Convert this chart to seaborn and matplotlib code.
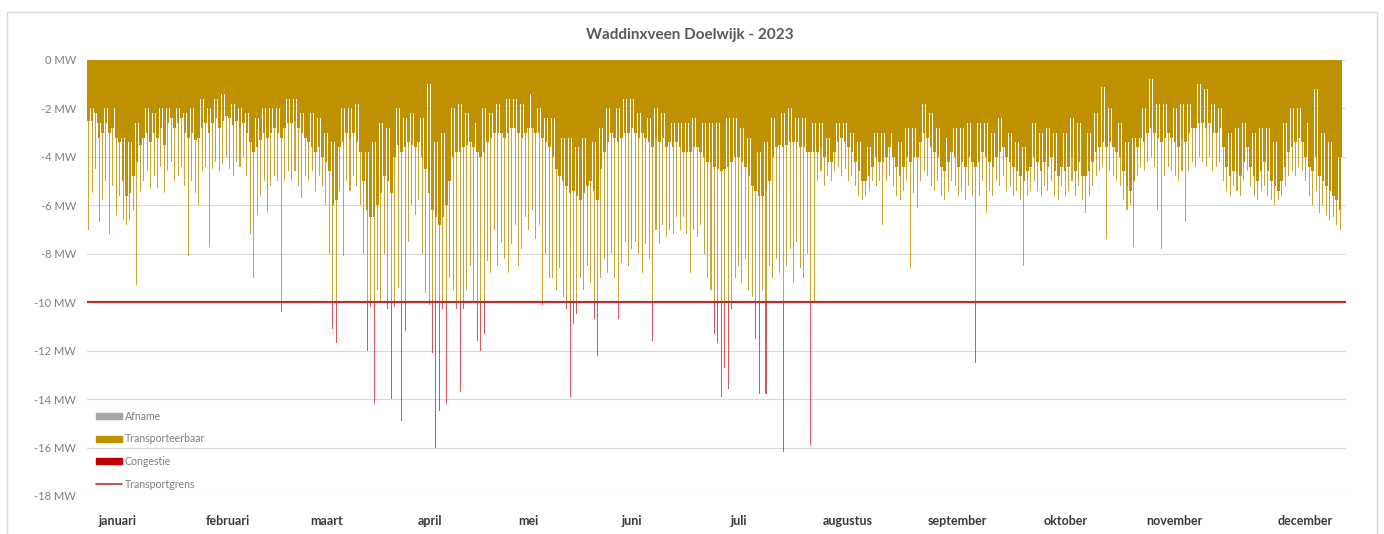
import numpy as np
import pandas as pd
import seaborn as sns
import matplotlib.pyplot as plt
from matplotlib.patches import Patch, Rectangle
from matplotlib.lines import Line2D

titel = "Waddinxveen Doelwijk - 2023"
maanden = ["januari", "februari", "maart", "april", "mei", "juni", "juli",
           "augustus", "september", "oktober", "november", "december"]
grens = -10  # transportgrens in MW

# diepste waarde per dag (MW), per maand een regel
piek = [
    -7.0, -5.5, -4.5, -6.7, -5.8, -5.0, -7.2, -5.2, -6.4, -5.6, -6.6, -6.8, -6.6, -6.2, -9.3, -5.4, -5.0, -4.6, -5.3, -4.8, -5.3, -4.4, -5.5, -4.6, -4.2, -5.0, -4.8, -4.4, -5.2, -8.1, -5.0,
    -5.5, -6.0, -4.6, -4.4, -7.7, -4.5, -4.2, -4.6, -4.3, -4.0, -4.5, -4.8, -4.2, -4.4, -4.0, -4.8, -7.2, -9.0, -6.4, -5.6, -5.0, -6.3, -5.2, -4.8, -5.0, -10.4, -5.0, -4.6,
    -5.0, -4.6, -5.2, -5.7, -4.8, -5.0, -4.6, -5.4, -4.8, -5.2, -6.0, -8.0, -11.1, -11.7, -5.4, -8.1, -5.0, -5.4, -4.8, -5.2, -6.0, -8.0, -12.0, -10.2, -14.2, -9.5, -10.0, -8.0, -10.3, -14.0, -10.2,
    -9.4, -14.9, -11.2, -7.5, -6.0, -6.4, -5.8, -8.0, -9.6, -10.1, -12.1, -16.0, -14.5, -10.3, -14.2, -9.0, -9.5, -10.3, -13.7, -10.3, -9.5, -8.5, -10.0, -11.6, -12.0, -11.3, -8.3, -8.8, -7.0, -8.5,
    -7.5, -8.2, -8.8, -7.6, -6.8, -8.5, -7.8, -6.5, -7.0, -6.2, -7.4, -6.8, -10.1, -8.0, -9.0, -9.0, -9.5, -8.6, -9.8, -10.3, -13.9, -10.9, -10.5, -9.0, -9.5, -8.5, -9.2, -10.7, -12.2, -9.0, -8.2,
    -8.8, -8.0, -9.0, -10.7, -8.4, -7.5, -8.5, -7.8, -7.5, -8.0, -8.8, -7.6, -8.2, -11.6, -7.0, -7.6, -6.8, -7.3, -7.0, -7.2, -6.5, -7.0, -6.5, -7.2, -8.8, -7.0, -7.3, -6.8, -8.0, -9.0,
    -9.5, -11.3, -11.7, -13.9, -12.7, -13.6, -10.3, -9.0, -8.5, -9.2, -8.2, -9.5, -9.8, -11.5, -13.8, -9.5, -13.8, -8.5, -9.0, -8.2, -8.8, -16.2, -8.5, -7.8, -9.2, -7.5, -8.6, -9.0, -8.0, -15.9, -10.0,
    -5.0, -4.6, -5.2, -4.8, -5.0, -4.6, -4.4, -4.8, -4.5, -5.0, -4.8, -5.2, -5.6, -5.8, -5.6, -5.4, -5.0, -5.2, -5.0, -6.8, -5.0, -4.8, -5.2, -5.6, -5.8, -5.4, -5.0, -8.6, -5.5, -6.1, -5.0,
    -4.6, -4.8, -5.2, -5.4, -5.0, -5.6, -5.8, -5.4, -5.0, -5.2, -5.6, -5.4, -5.8, -5.2, -5.6, -12.5, -5.6, -5.0, -6.3, -5.4, -5.6, -5.0, -5.2, -4.8, -5.4, -5.2, -5.6, -5.4, -5.8, -8.5,
    -5.6, -5.4, -5.0, -5.4, -5.6, -5.2, -5.4, -5.0, -5.6, -5.8, -5.2, -5.6, -5.4, -5.0, -5.6, -5.2, -5.8, -6.3, -5.6, -5.2, -4.8, -4.6, -4.4, -7.4, -4.6, -4.8, -5.0, -5.2, -5.8, -6.2, -6.0,
    -7.7, -4.8, -4.4, -4.6, -4.2, -4.0, -4.4, -6.2, -7.8, -4.8, -4.4, -4.6, -4.8, -5.0, -4.6, -6.7, -4.6, -4.2, -4.4, -4.0, -4.2, -4.4, -4.0, -4.6, -4.4, -4.2, -5.0, -5.4, -5.6, -5.2,
    -5.4, -5.6, -5.0, -4.6, -5.2, -5.6, -5.8, -5.4, -5.2, -5.6, -5.8, -6.0, -5.8, -5.6, -5.2, -4.8, -4.6, -4.8, -4.4, -4.6, -5.0, -5.6, -6.0, -5.4, -6.3, -6.0, -6.4, -6.6, -6.5, -6.8, -7.0,
]

# gangbaar niveau per dag (MW)
basis = [
    -2.5, -2.5, -2.2, -3.2, -3.0, -2.6, -3.0, -2.8, -3.2, -3.4, -5.0, -5.6, -5.5, -4.8, -4.2, -3.5, -3.2, -3.0, -3.4, -3.0, -3.2, -2.8, -3.5, -2.6, -2.4, -2.8, -2.6, -2.4, -3.0, -3.2, -3.0,
    -3.3, -3.2, -2.8, -2.6, -3.0, -2.6, -2.4, -2.8, -2.5, -2.3, -2.4, -2.7, -2.5, -2.8, -2.6, -3.0, -3.4, -3.8, -3.6, -3.3, -3.0, -3.2, -3.0, -2.8, -3.0, -3.2, -2.8, -2.6,
    -2.6, -2.5, -2.8, -3.0, -3.2, -3.4, -3.6, -3.8, -3.6, -4.0, -4.2, -4.6, -6.0, -5.8, -3.6, -3.4, -3.0, -3.2, -3.0, -3.4, -3.8, -5.0, -6.2, -6.5, -6.5, -6.0, -5.5, -4.8, -5.0, -5.5, -4.0,
    -3.5, -3.8, -3.6, -3.4, -3.5, -3.6, -3.4, -4.0, -4.5, -5.5, -6.2, -6.5, -6.8, -6.5, -6.0, -5.0, -4.0, -3.8, -3.8, -3.6, -3.5, -3.4, -3.6, -3.8, -4.0, -3.8, -3.4, -3.2, -3.0, -3.0,
    -3.0, -3.2, -3.0, -2.8, -2.8, -3.0, -3.2, -3.0, -2.8, -2.8, -3.0, -3.0, -3.2, -3.4, -3.6, -4.0, -4.5, -4.8, -5.0, -5.2, -5.5, -5.4, -5.6, -5.8, -5.5, -5.2, -5.0, -5.4, -5.8, -4.5, -3.8,
    -3.4, -3.0, -3.2, -3.4, -3.2, -3.0, -3.0, -2.8, -3.0, -3.2, -3.0, -3.2, -3.4, -3.6, -3.2, -3.4, -3.2, -3.6, -3.4, -3.6, -3.4, -3.6, -3.8, -3.8, -3.8, -3.6, -3.6, -3.8, -4.0, -4.2,
    -4.2, -4.4, -4.5, -4.6, -4.5, -4.4, -4.2, -4.0, -4.0, -4.2, -4.4, -4.8, -5.2, -5.4, -5.6, -5.6, -5.4, -5.0, -4.0, -3.6, -3.5, -3.6, -3.5, -3.4, -3.4, -3.4, -3.6, -3.6, -3.8, -3.8, -3.8,
    -3.8, -3.6, -4.0, -4.2, -4.2, -3.8, -3.4, -3.2, -3.4, -3.6, -3.8, -4.2, -4.6, -5.0, -5.0, -4.8, -4.4, -4.0, -4.2, -4.2, -4.0, -3.6, -4.0, -4.4, -4.8, -4.4, -4.0, -4.2, -4.0, -4.0, -3.4,
    -3.0, -3.2, -3.6, -3.8, -4.0, -4.4, -4.6, -4.2, -3.8, -4.0, -4.4, -4.2, -4.4, -4.0, -4.2, -4.4, -4.2, -3.8, -4.0, -4.2, -4.4, -4.0, -3.8, -3.6, -4.0, -4.2, -4.4, -4.6, -4.8, -5.0,
    -4.6, -4.4, -4.0, -4.2, -4.6, -4.2, -4.4, -4.0, -4.6, -4.8, -4.4, -4.6, -4.4, -4.0, -4.6, -4.2, -4.8, -4.8, -4.6, -4.2, -3.8, -3.6, -3.4, -3.6, -3.4, -3.6, -3.8, -4.0, -4.6, -5.2, -5.4,
    -5.0, -3.6, -3.2, -3.4, -3.0, -2.8, -3.0, -3.2, -3.4, -3.2, -3.0, -3.2, -3.4, -3.6, -3.2, -3.4, -3.0, -2.8, -2.8, -2.6, -2.6, -2.8, -2.6, -3.0, -3.0, -2.8, -3.6, -4.4, -4.8, -4.6,
    -4.6, -4.8, -4.2, -3.6, -4.4, -4.8, -5.0, -4.6, -4.2, -4.6, -5.0, -5.2, -5.4, -5.0, -4.4, -3.8, -3.6, -3.4, -3.2, -3.4, -4.0, -4.4, -4.6, -4.0, -4.8, -5.0, -5.2, -5.4, -5.6, -5.8, -6.2,
]

# laagste afname per dag (MW)
dal = [
    -1.6, -2.0, -1.8, -2.6, -2.2, -2.0, -2.4, -2.0, -2.6, -2.8, -3.2, -3.6, -3.4, -3.0, -2.6, -2.2, -2.4, -2.0, -2.6, -2.2, -2.4, -2.0, -2.6, -2.0, -1.8, -2.2, -2.0, -1.8, -2.2, -2.4, -2.0,
    -2.4, -2.2, -1.6, -1.8, -2.0, -1.4, -1.6, -1.8, -1.4, -1.2, -1.6, -1.8, -1.6, -2.0, -1.8, -2.2, -2.4, -2.6, -2.4, -2.2, -2.0, -2.2, -2.0, -1.8, -2.0, -2.4, -1.8, -1.6,
    -1.8, -1.6, -2.0, -2.2, -2.4, -2.6, -2.2, -2.6, -2.4, -2.8, -3.0, -3.4, -3.4, -2.4, -2.2, -2.0, -1.8, -2.0, -2.4, -1.8, -2.6, -3.4, -3.8, -3.6, -3.4, -2.8, -2.6, -2.4, -2.8, -2.6, -2.2,
    -2.0, -2.2, -2.4, -2.0, -2.2, -2.4, -2.0, -2.4, -2.6, -1.0, -3.0, -3.4, -3.2, -3.0, -2.6, -2.2, -2.0, -2.2, -1.8, -2.0, -2.2, -2.0, -2.4, -2.6, -2.4, -2.0, -1.8, -2.2, -2.0, -1.8,
    -2.0, -1.8, -1.6, -1.8, -1.6, -2.0, -1.8, -1.6, -1.4, -1.6, -1.8, -2.0, -2.2, -2.4, -2.6, -2.4, -2.8, -3.0, -3.2, -3.0, -3.2, -3.4, -3.6, -3.4, -3.2, -3.0, -3.2, -3.4, -3.2, -2.8, -2.4,
    -2.0, -1.8, -1.6, -2.0, -1.8, -1.6, -1.8, -1.6, -2.0, -2.2, -2.0, -2.2, -2.4, -2.2, -2.0, -2.4, -2.2, -2.6, -2.4, -2.6, -2.4, -2.6, -2.8, -2.6, -2.8, -2.4, -2.6, -2.8, -2.6, -2.8,
    -2.6, -2.8, -2.6, -2.8, -2.6, -2.4, -2.2, -2.4, -2.6, -2.8, -3.0, -3.2, -3.4, -3.6, -3.8, -3.6, -3.4, -3.0, -2.4, -2.2, -2.0, -2.2, -2.4, -2.0, -2.2, -2.4, -2.6, -2.4, -2.6, -2.8, -2.6,
    -2.8, -2.6, -3.0, -3.2, -3.4, -3.0, -2.6, -2.4, -2.6, -2.8, -3.0, -3.2, -3.4, -3.6, -3.8, -3.6, -3.2, -3.0, -3.2, -3.0, -2.8, -2.6, -3.0, -3.2, -3.4, -3.2, -2.8, -3.0, -2.8, -2.6, -2.2,
    -1.8, -1.4, -2.2, -2.6, -2.8, -3.0, -3.2, -3.0, -2.6, -2.8, -3.0, -2.8, -3.0, -2.6, -2.8, -2.2, -2.6, -2.4, -2.6, -2.8, -3.0, -2.6, -2.4, -2.6, -2.8, -3.0, -3.2, -3.4, -3.4, -3.6,
    -3.2, -3.0, -2.6, -2.8, -3.0, -2.6, -2.8, -2.4, -3.0, -3.2, -2.8, -3.0, -2.8, -2.4, -3.0, -2.6, -3.2, -3.2, -3.0, -2.6, -2.2, -2.0, -1.1, -2.2, -2.0, -2.2, -2.4, -2.6, -3.0, -3.4, -3.6,
    -3.2, -2.2, -1.8, -2.0, -1.6, -0.8, -1.0, -1.8, -2.0, -1.8, -1.6, -1.8, -2.0, -2.2, -1.8, -2.0, -1.8, -1.6, -1.6, -1.0, -1.4, -1.2, -1.6, -1.8, -1.6, -2.0, -2.4, -2.8, -3.0, -2.8,
    -2.8, -3.0, -2.6, -2.0, -2.6, -3.0, -3.2, -2.8, -2.6, -2.8, -3.2, -3.4, -3.6, -3.2, -2.6, -2.2, -2.0, -1.8, -2.0, -2.2, -2.4, -2.6, -2.4, -1.2, -2.8, -3.0, -3.2, -3.4, -3.6, -3.8, -4.0,
]

assert len(piek) == 365 and len(basis) == 365 and len(dal) == 365

df = pd.DataFrame({"dag": np.arange(365), "piek": piek, "basis": basis, "dal": dal})

# plek van de maandlabels (dagnummer)
maand_pos = [8.5, 40.5, 69.3, 99.3, 127.8, 158.0, 189.1, 220.8, 252.6, 284.3, 315.7, 353.8]

goud = "#bf9000"
rood = "#c00000"
grijs = "#a6a6a6"
lijnrood = "#b83030"

sns.set_theme(style="white")
plt.rcParams["font.family"] = ["Lato", "DejaVu Sans"]

W, H = 1384, 534
fig = plt.figure(figsize=(W / 100, H / 100), dpi=100)
ax = fig.add_axes([87 / W, 1 - 496 / H, (1346 - 87) / W, (496 - 60) / H])

# transporteerbaar
ax.bar(df["dag"], df["dal"], width=1.0, color=goud, linewidth=0)
ax.bar(df["dag"], df["basis"], width=0.75, color=goud, linewidth=0)
ax.bar(df["dag"], df["piek"].clip(lower=grens), width=0.3, color=goud, linewidth=0, alpha=0.8)

# congestie: deel onder de transportgrens
over = df[df["piek"] < grens]
ax.bar(over["dag"], over["piek"] - grens, bottom=grens, width=0.3, color=rood,
       linewidth=0, alpha=0.65)

sns.lineplot(x=[-0.5, 365.7], y=[grens, grens], color=lijnrood, linewidth=1.6, ax=ax)

ax.set_xlim(-0.5, 365.7)
ax.set_ylim(-18, 0)
yt = list(range(-18, 1, 2))
ax.set_yticks(yt)
ax.set_yticklabels([f"{v} MW" for v in yt], fontsize=8, color="#7f7f7f")
ax.set_xticks(maand_pos)
ax.set_xticklabels(maanden, fontsize=9, color="#3a3a3a", fontweight="bold")
ax.tick_params(axis="y", length=0, pad=8)
ax.tick_params(axis="x", length=0, pad=14)
ax.yaxis.grid(True, color="#d9d9d9", linewidth=0.8)
ax.set_axisbelow(True)
sns.despine(ax=ax, left=True, bottom=True)

handles = [
    Patch(color=grijs, label="Afname"),
    Patch(color=goud, label="Transporteerbaar"),
    Patch(color=rood, label="Congestie"),
    Line2D([0], [0], color=lijnrood, linewidth=1.2, label="Transportgrens"),
]
ax.legend(handles=handles, loc="upper left", bbox_to_anchor=(0.004, 0.205),
          frameon=False, fontsize=7.6, labelcolor="#7f7f7f", handlelength=2.4,
          handleheight=0.5, labelspacing=1.1, handletextpad=0.3, borderaxespad=0)

fig.text(690 / W, 1 - 35 / H, titel, ha="center", va="center", fontsize=11,
         fontweight="bold", color="#595959")

fig.patches.append(Rectangle((7 / W, -0.02), (1377 - 7) / W, 1 - 12 / H + 0.02,
                             transform=fig.transFigure, fill=False,
                             edgecolor="#d9d9d9", linewidth=1))

fig.savefig("out.png", dpi=100)
